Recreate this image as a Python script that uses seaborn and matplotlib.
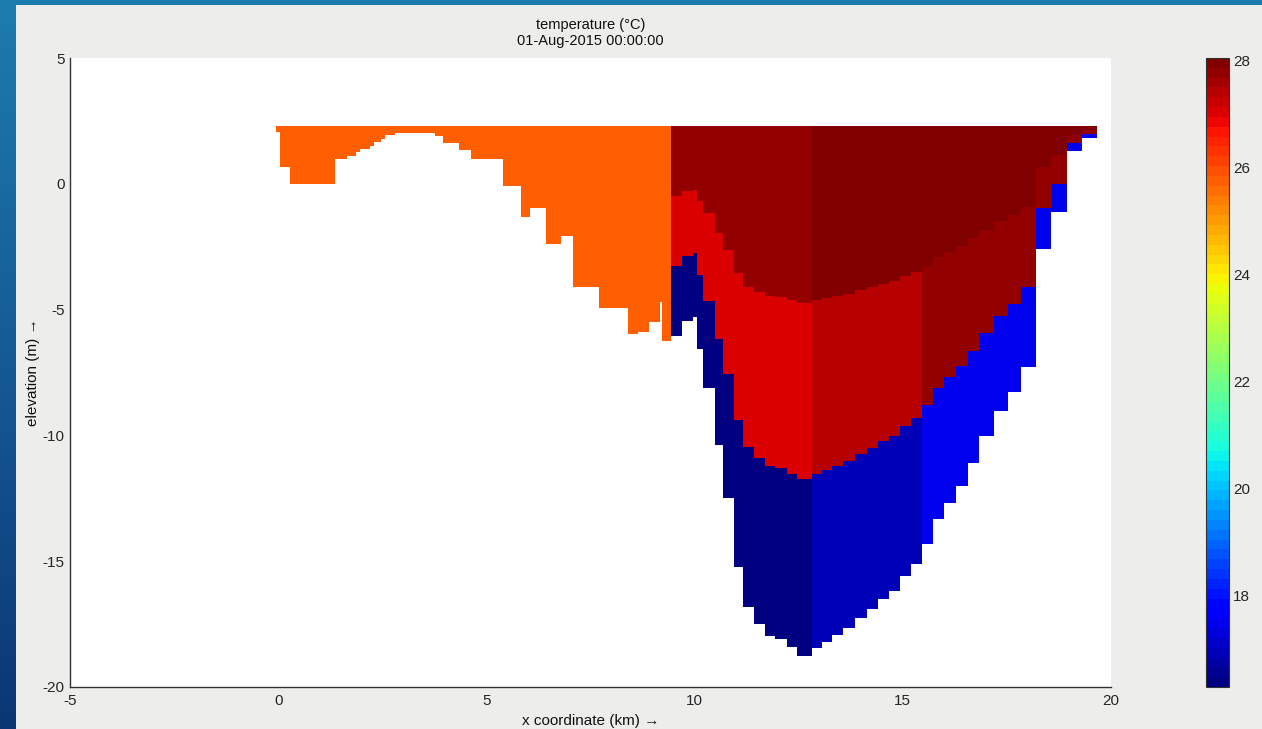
import numpy as np
import matplotlib
matplotlib.use("Agg")
import matplotlib.pyplot as plt
from matplotlib.colors import LinearSegmentedColormap
from matplotlib.patches import Rectangle
import seaborn as sns

# ---------------- data ----------------
# cell edges along the section (km) and bed level of each cell (m)
x_edges_km = [-0.06, 0.05, 0.29, 1.37, 1.65, 1.86, 1.96, 2.20, 2.29, 2.48, 2.56, 2.80,
              3.76, 3.96, 4.34, 4.64, 5.39, 5.84, 6.04, 6.44, 6.80, 7.08, 7.70, 8.41,
              8.65, 8.91, 9.17, 9.21, 9.43,
              9.69, 9.97, 10.06, 10.21, 10.49, 10.69, 10.95, 11.17, 11.43, 11.69, 11.93,
              12.21, 12.47, 12.81,
              13.05, 13.30, 13.57, 13.86, 14.13, 14.41, 14.66, 14.94, 15.20, 15.45,
              15.72, 16.00, 16.28, 16.56, 16.84, 17.20, 17.52, 17.84, 18.21,
              18.57, 18.94, 19.30, 19.67]
bed_level_m = [2.04, 0.65, 0.01, 1.00, 1.09, 1.25, 1.38, 1.51, 1.67, 1.80, 1.95, 2.01,
               1.90, 1.64, 1.34, 1.00, -0.08, -1.30, -0.98, -2.40, -2.09, -4.12, -4.94,
               -5.98, -5.91, -5.51, -4.70, -6.24,
               -6.04, -5.44, -5.29, -6.57, -8.10, -10.40, -12.47, -15.25, -16.84, -17.50,
               -17.97, -18.10, -18.43, -18.76,
               -18.45, -18.20, -17.95, -17.65, -17.25, -16.90, -16.50, -16.20, -15.60, -15.12,
               -14.32, -13.33, -12.67, -12.00, -11.08, -10.02, -9.02, -8.29, -7.30,
               -2.60, -1.14, 1.31, 1.84]
water_level_m = 2.28
n_sigma_layers = 3

# temperature (deg C) of the model segments, per sigma layer (surface, middle, bottom)
segment_bounds_km = [9.43, 12.81, 15.45, 18.21]
temp_surface_layer = [25.75, 27.71, 28.00, 27.95, 27.92]
temp_middle_layer = [25.75, 27.06, 27.31, 27.82, 27.80]
temp_bottom_layer = [25.75, 16.30, 16.94, 17.40, 17.40]

color_limits = (16.29, 28.04)
colorbar_ticks = [18, 20, 22, 24, 26, 28]
x_ticks = [-5, 0, 5, 10, 15, 20]
y_ticks = [-20, -15, -10, -5, 0, 5]
title_lines = ["temperature (°C)", "01-Aug-2015 00:00:00"]
x_label = "x coordinate (km) →"
y_label = "elevation (m) →"

# ---------------- style ----------------
sns.set_style("white")
plt.rcParams["font.family"] = ["Liberation Sans", "DejaVu Sans"]
plt.rcParams["axes.unicode_minus"] = False
plt.rcParams["font.size"] = 11
plt.rcParams["text.color"] = "#111111"
plt.rcParams["axes.labelcolor"] = "#111111"
plt.rcParams["xtick.color"] = "#262626"
plt.rcParams["ytick.color"] = "#262626"

W, H = 1262, 729
fig = plt.figure(figsize=(W / 100, H / 100), dpi=100)

# slide background + figure panel
bg = fig.add_axes([0, 0, 1, 1], zorder=-10)
grad = np.linspace(0, 1, 256).reshape(-1, 1)
bg_cmap = LinearSegmentedColormap.from_list("slide", ["#0b3674", "#155a95", "#1d7cae"])
bg.imshow(grad, aspect="auto", cmap=bg_cmap, extent=[0, 1, 0, 1], origin="lower")
bg.add_patch(Rectangle((16 / W, 0), 1 - 16 / W, (H - 5) / H, color="#ededeb", lw=0))
bg.set_xlim(0, 1)
bg.set_ylim(0, 1)
bg.axis("off")

# main axes
ax = fig.add_axes([70 / W, 42 / H, 1041 / W, 629 / H])
ax.set_facecolor("white")

cmap = matplotlib.colormaps["jet"].resampled(64)

xe = np.asarray(x_edges_km)
bed = np.asarray(bed_level_m)
n = len(bed)
centers = 0.5 * (xe[:-1] + xe[1:])
seg = np.searchsorted(segment_bounds_km, centers)
layer_temps = np.array([temp_surface_layer, temp_middle_layer, temp_bottom_layer])

X = np.empty((n_sigma_layers + 1, 2 * n))
Z = np.empty((n_sigma_layers + 1, 2 * n))
for k in range(n_sigma_layers + 1):
    X[k, 0::2] = xe[:-1]
    X[k, 1::2] = xe[1:]
    z = water_level_m - k * (water_level_m - bed) / n_sigma_layers
    Z[k, 0::2] = z
    Z[k, 1::2] = z
C = np.ma.masked_all((n_sigma_layers, 2 * n - 1))
C[:, 0::2] = layer_temps[:, seg]

mesh = ax.pcolormesh(X, Z, C, cmap=cmap, vmin=color_limits[0], vmax=color_limits[1],
                     shading="flat", edgecolors="none", antialiased=False)

ax.set_xlim(-5, 20)
ax.set_ylim(-20, 5)
ax.set_xticks(x_ticks)
ax.set_yticks(y_ticks)
ax.set_xticklabels([str(t) for t in x_ticks])
ax.set_yticklabels([str(t) for t in y_ticks])
for side in ["top", "right"]:
    ax.spines[side].set_visible(False)
for side in ["left", "bottom"]:
    ax.spines[side].set_color("#333333")
    ax.spines[side].set_linewidth(1.0)
ax.tick_params(axis="both", direction="in", length=7, width=1, labelsize=11, colors="#262626")
ax.tick_params(axis="x", pad=5)
ax.tick_params(axis="y", pad=4)
ax.set_xlabel(x_label, fontsize=11, labelpad=4)
ax.set_ylabel(y_label, fontsize=11, labelpad=2)
ax.set_title("\n".join(title_lines), fontsize=10.5, pad=9, linespacing=1.2)

# colorbar
cax = fig.add_axes([1206 / W, 42 / H, 23 / W, 629 / H])
cb = fig.colorbar(mesh, cax=cax, ticks=colorbar_ticks)
cb.outline.set_edgecolor("#333333")
cb.outline.set_linewidth(0.8)
cax.tick_params(direction="in", length=4, width=1, left=True, right=True,
                labelleft=False, labelright=True, labelsize=11, colors="#262626", pad=3)
cax.set_yticklabels([str(t) for t in colorbar_ticks])

fig.savefig("out.png", dpi=100)
